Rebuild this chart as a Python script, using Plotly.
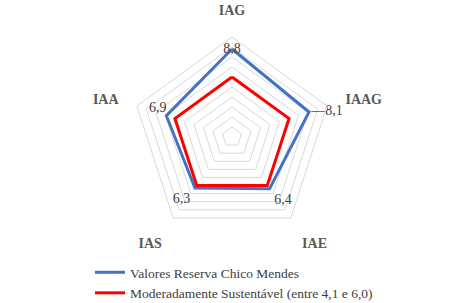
import plotly.graph_objects as go

categories = ["IAG", "IAAG", "IAE", "IAS", "IAA"]
reserva_values = [8.8, 8.1, 6.4, 6.3, 6.9]
reserva_labels = ["8,8", "<span style='color:#000'>\u2014</span>8,1", "6,4", "6,3", "6,9"]
moderado_values = [6.0, 6.0, 6.0, 6.0, 6.0]

label_positions = ["middle center", "middle right", "bottom right", "bottom left", "top left"]
label_offsets = [0, 2, 6, 6, 0]

SERIF = "Liberation Serif, Times New Roman, Tinos, DejaVu Serif, serif"

fig = go.Figure()
fig.add_trace(go.Scatterpolar(
    r=reserva_values + reserva_values[:1],
    theta=categories + categories[:1],
    mode="lines",
    line=dict(color="#4472C4", width=3),
    name="Valores Reserva Chico Mendes",
))
fig.add_trace(go.Scatterpolar(
    r=moderado_values + moderado_values[:1],
    theta=categories + categories[:1],
    mode="lines",
    line=dict(color="#FF0000", width=3),
    name="Moderadamente Sustentável (entre 4,1 e 6,0)",
))
fig.add_trace(go.Scatterpolar(
    r=reserva_values,
    theta=categories,
    mode="markers+text",
    text=reserva_labels,
    textposition=label_positions,
    textfont=dict(family=SERIF, size=14, color="#404040"),
    marker=dict(size=label_offsets, color="rgba(0,0,0,0)", line=dict(width=0)),
    showlegend=False,
    hoverinfo="skip",
))

cx, cy, R = 232, 137, 100
fig.update_layout(
    width=473, height=303,
    margin=dict(l=0, r=0, t=0, b=0, autoexpand=False),
    paper_bgcolor="white",
    font=dict(family=SERIF, size=14, color="#404040"),
    polar=dict(
        domain=dict(x=[(cx - R) / 473, (cx + R) / 473],
                    y=[1 - (cy + R) / 303, 1 - (cy - R) / 303]),
        gridshape="linear",
        bgcolor="white",
        radialaxis=dict(range=[0, 10], dtick=1, showticklabels=False, ticks="",
                        showline=False, gridcolor="#d9d9d9", gridwidth=1),
        angularaxis=dict(direction="clockwise", rotation=90, showgrid=False,
                         showline=True, linecolor="#d9d9d9", linewidth=1,
                         ticks="outside", ticklen=16, tickcolor="rgba(0,0,0,0)",
                         tickfont=dict(family=SERIF, size=14, color="#595959",
                                       weight="bold")),
    ),
    showlegend=True,
    legend=dict(x=90/473, y=1-257/303, xanchor="left", yanchor="top",
                font=dict(family=SERIF, size=13.5, color="#404040"),
                bgcolor="rgba(0,0,0,0)", itemwidth=30, tracegroupgap=0),
)

fig.write_html("out.html")
